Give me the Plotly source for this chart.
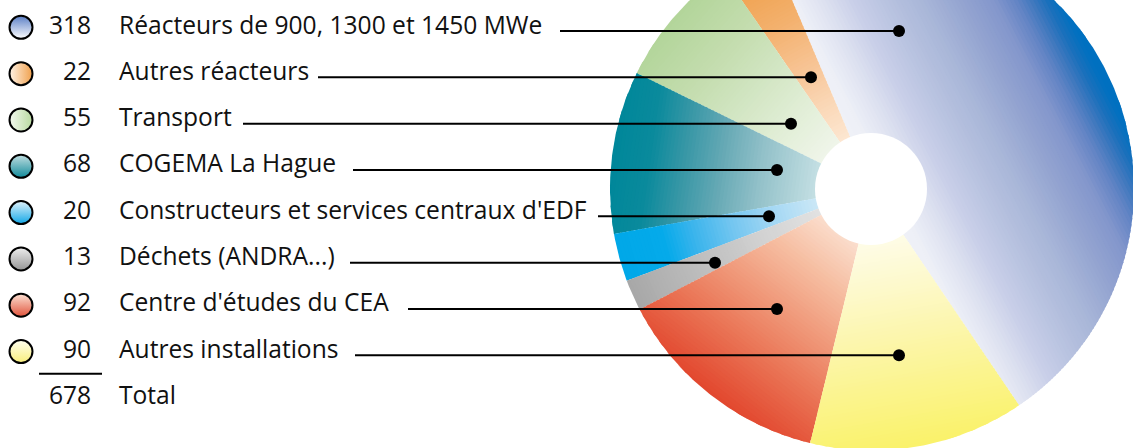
import numpy as np
import plotly.graph_objects as go

# ---------------- data ----------------
CATEGORIES = [
    "Réacteurs de 900, 1300 et 1450 MWe",
    "Autres réacteurs",
    "Transport",
    "COGEMA La Hague",
    "Constructeurs et services centraux d'EDF",
    "Déchets (ANDRA...)",
    "Centre d'études du CEA",
    "Autres installations",
]
VALUES = [318, 22, 55, 68, 20, 13, 92, 90]
TOTAL_LABEL = "Total"

# ---------------- styles / layout ----------------
W, H = 1133, 448
CX, CY, R = 872.0, 188.5, 262.0
HOLE_CX, HOLE_CY, HOLE_R = 871.0, 189.0, 56.0
START_ANGLE = -23.0          # clockwise degrees from 12 o'clock
FONT = "Open Sans"
FSIZE = 24.6
ROW0, ROW_STEP = 31.0, 46.33
NUM_X, LABEL_X, MARK_X = 93, 117, 21
LEADER_START = [560, 318, 243, 353, 598, 350, 408, 355]
LEADER_END = [899, 811, 791, 777, 769, 715, 777, 899]

# gradient stops (distance along gradient direction -> colour)
SLICE_STOPS = [
    [(-80, "#f5f6fb"), (17, "#eef0f7"), (44, "#dde1f0"), (70, "#c9cfe8"), (106, "#b5c0de"),
     (133, "#a8b6d8"), (168, "#93a3d0"), (195, "#8497cc"), (215, "#6585c5"), (230, "#3f78be"),
     (243, "#1a70bc"), (255, "#0070c0")],
    [(50, "#fde9d5"), (100, "#fad6b4"), (140, "#f7c393"), (190, "#f3b06c"), (262, "#ee9c44")],
    [(50, "#f1f6ec"), (100, "#e3efd9"), (150, "#d3e6c4"), (200, "#c4ddaf"), (262, "#b3d59a")],
    [(50, "#c8e2e6"), (73, "#b5d6db"), (113, "#93c1c9"), (153, "#66a9b5"), (193, "#3596a5"),
     (225, "#0a8a9c"), (262, "#00879a")],
    [(50, "#cfe9f7"), (65, "#c5e5f6"), (105, "#a3d7f4"), (145, "#74c6f0"), (185, "#3ab4ec"),
     (215, "#05aaea"), (262, "#00a8e8")],
    [(50, "#e4e4e4"), (120, "#d2d2d2"), (180, "#c0c0c0"), (262, "#a8a8a8")],
    [(50, "#fbe0d0"), (100, "#f6bea2"), (150, "#f09a7b"), (200, "#ea7556"), (262, "#e2472e")],
    [(50, "#fefce8"), (100, "#fdf9cc"), (150, "#fcf6ad"), (200, "#fbf48f"), (262, "#faf26a")],
]
GRAD_DIR_OVERRIDE = {0: (0.89, -0.46)}   # screen-space unit vector for the big slice

# (gradient type, marker colour [top / right], gradient colour [bottom / left])
LEGEND_MARKERS = [
    ("vertical", "#5b7fc6", "#ffffff"),
    ("horizontal", "#fff3e6", "#f0a04c"),
    ("horizontal", "#f4f9ef", "#b8da9f"),
    ("vertical", "#c2dfe2", "#118a9a"),
    ("vertical", "#e0f2fb", "#10a6e6"),
    ("vertical", "#eeeeee", "#959595"),
    ("vertical", "#fde2d4", "#e0533b"),
    ("vertical", "#fffff0", "#f8ee7a"),
]


def hex2rgb(h):
    h = h.lstrip("#")
    return [int(h[i:i + 2], 16) for i in (0, 2, 4)]


def interp_color(stops, s):
    xs = [p[0] for p in stops]
    cols = np.array([hex2rgb(p[1]) for p in stops], dtype=float)
    rgb = [np.interp(s, xs, cols[:, k]) for k in range(3)]
    return "rgb(%d,%d,%d)" % tuple(int(round(c)) for c in rgb)


def clip_half(pts, f):
    out = []
    n = len(pts)
    for i in range(n):
        P, Q = pts[i], pts[(i + 1) % n]
        fp, fq = f(P), f(Q)
        if fp >= 0:
            out.append(P)
        if (fp >= 0) != (fq >= 0):
            t = fp / (fp - fq)
            out.append((P[0] + t * (Q[0] - P[0]), P[1] + t * (Q[1] - P[1])))
    return out


def pol(theta_deg, r):
    th = np.radians(theta_deg)
    return (CX + r * np.sin(th), CY - r * np.cos(th))


total = sum(VALUES)
sweeps = [v / total * 360.0 for v in VALUES]
angles = [(START_ANGLE, START_ANGLE + sweeps[0])]
prev = START_ANGLE
for sw in sweeps[1:]:
    angles.append((prev - sw, prev))
    prev -= sw

fig = go.Figure()

STEP = 3.5
for i, (a0, a1) in enumerate(angles):
    n = max(10, int(abs(a1 - a0) * 2))
    poly = [(CX, CY)] + [pol(a, R) for a in np.linspace(a0, a1, n)]
    if i in GRAD_DIR_OVERRIDE:
        u = GRAD_DIR_OVERRIDE[i]
    else:
        mid = np.radians((a0 + a1) / 2)
        u = (np.sin(mid), -np.cos(mid))

    def sval(p, u=u):
        return (p[0] - CX) * u[0] + (p[1] - CY) * u[1]

    svals = [sval(p) for p in poly]
    smin, smax = min(svals), max(svals)
    for lo in np.arange(smin, smax, STEP):
        hi = lo + STEP
        piece = clip_half(poly, lambda p, lo=lo: sval(p) - (lo - 0.8))
        piece = clip_half(piece, lambda p, hi=hi: (hi + 0.8) - sval(p)) if piece else []
        if len(piece) < 3:
            continue
        xs = [p[0] for p in piece] + [piece[0][0]]
        ys = [p[1] for p in piece] + [piece[0][1]]
        fig.add_trace(go.Scatter(
            x=xs, y=ys, mode="lines", fill="toself",
            fillcolor=interp_color(SLICE_STOPS[i], (lo + hi) / 2),
            line=dict(width=0), hoverinfo="skip", showlegend=False))

# leader lines and dots
rows = [ROW0 + k * ROW_STEP for k in range(len(CATEGORIES))]
lx, ly = [], []
for k in range(len(CATEGORIES)):
    lx += [LEADER_START[k], LEADER_END[k], None]
    ly += [rows[k], rows[k], None]
fig.add_trace(go.Scatter(x=lx, y=ly, mode="lines", line=dict(color="#000000", width=2),
                         hoverinfo="skip", showlegend=False))
fig.add_trace(go.Scatter(x=LEADER_END, y=rows, mode="markers",
                         marker=dict(size=12, color="#000000"),
                         hoverinfo="skip", showlegend=False))

# legend markers
fig.add_trace(go.Scatter(
    x=[MARK_X] * len(CATEGORIES), y=[r - 3.7 for r in rows], mode="markers",
    marker=dict(size=23, color=[m[1] for m in LEGEND_MARKERS],
                gradient=dict(type=[m[0] for m in LEGEND_MARKERS], color=[m[2] for m in LEGEND_MARKERS]),
                line=dict(color="#000000", width=2)),
    hoverinfo="skip", showlegend=False))

# total separator
total_row = ROW0 + len(CATEGORIES) * ROW_STEP
fig.add_trace(go.Scatter(x=[39, 102], y=[total_row - 28, total_row - 28], mode="lines",
                         line=dict(color="#000000", width=2), hoverinfo="skip", showlegend=False))

annotations = []
for k, (cat, val) in enumerate(zip(CATEGORIES + [TOTAL_LABEL], VALUES + [total])):
    y = ROW0 + k * ROW_STEP - 7
    annotations.append(dict(x=NUM_X, y=y, text=str(val), xanchor="right", yanchor="middle",
                            showarrow=False, font=dict(family=FONT, size=FSIZE, color="#111111")))
    annotations.append(dict(x=LABEL_X, y=y, text=cat, xanchor="left", yanchor="middle",
                            showarrow=False, font=dict(family=FONT, size=FSIZE, color="#111111")))

fig.update_layout(
    width=W, height=H, margin=dict(l=0, r=0, t=0, b=0),
    paper_bgcolor="white", plot_bgcolor="white",
    xaxis=dict(range=[0, W], visible=False, fixedrange=True),
    yaxis=dict(range=[H, 0], visible=False, fixedrange=True),
    annotations=annotations,
    shapes=[dict(type="circle", xref="x", yref="y",
                 x0=HOLE_CX - HOLE_R, x1=HOLE_CX + HOLE_R,
                 y0=HOLE_CY - HOLE_R, y1=HOLE_CY + HOLE_R,
                 fillcolor="white", line=dict(width=0), layer="above")],
)

fig.write_html("out.html")
